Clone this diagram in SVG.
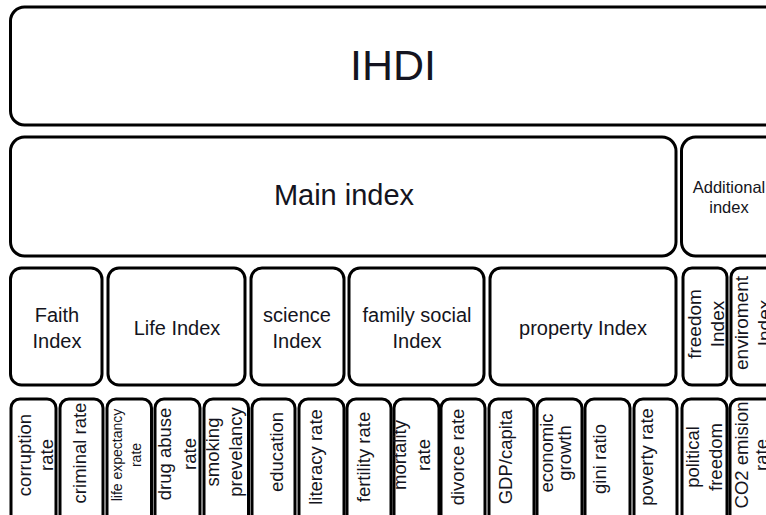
<svg xmlns="http://www.w3.org/2000/svg" width="766" height="515" viewBox="0 0 766 515">
<style>
.box{fill:#fff;stroke:#000;stroke-width:3}
.t{font-family:"Liberation Sans",Arial,sans-serif;fill:#141420;text-anchor:middle}
.b{font-size:18.5px}
.m{font-size:20px}
</style>
<rect width="766" height="515" fill="#fff"/>
<g id="connectors"/>
<g id="ihdi"><rect class="box" x="10.5" y="7" width="770" height="118" rx="14"/><text class="t" x="393" y="80" font-size="43">IHDI</text></g>
<g id="main-index"><rect class="box" x="10.5" y="137" width="665.5" height="119" rx="14"/><text class="t" x="344" y="205" font-size="29">Main index</text></g>
<g id="additional-index"><rect class="box" x="681.5" y="137" width="120" height="119" rx="14"/><text class="t" x="729" y="193" font-size="16.5">Additional</text><text class="t" x="729" y="213" font-size="16.5">index</text></g>

<g id="faith-index"><rect class="box" x="10.5" y="268" width="91.5" height="117" rx="11"/><text class="t m" x="57" y="322">Faith</text><text class="t m" x="57" y="348">Index</text></g>
<g id="life-index"><rect class="box" x="108" y="268" width="137" height="117" rx="11"/><text class="t m" x="177" y="335">Life Index</text></g>
<g id="science-index"><rect class="box" x="251" y="268" width="93" height="117" rx="11"/><text class="t m" x="297" y="322">science</text><text class="t m" x="297" y="348">Index</text></g>
<g id="family-social-index"><rect class="box" x="349" y="268" width="135" height="117" rx="11"/><text class="t m" x="417" y="322">family social</text><text class="t m" x="417" y="348">Index</text></g>
<g id="property-index"><rect class="box" x="490" y="268" width="186" height="117" rx="11"/><text class="t m" x="583" y="335">property Index</text></g>
<g id="freedom-index"><rect class="box" x="683" y="268" width="44" height="117" rx="9"/><text class="t" font-size="19" transform="translate(701,324) rotate(-90)"><tspan x="0">freedom</tspan><tspan x="0" dy="23">Index</tspan></text></g>
<g id="enviroment-index"><rect class="box" x="731" y="268" width="60" height="117" rx="9"/><text class="t" font-size="19" transform="translate(748,323) rotate(-90)"><tspan x="0">enviroment</tspan><tspan x="0" dy="23">Index</tspan></text></g>

<g id="corruption-rate"><rect class="box" x="11" y="399" width="45" height="140" rx="9"/><text class="t b" transform="translate(31,455) rotate(-90)"><tspan x="0">corruption</tspan><tspan x="0" dy="22">rate</tspan></text></g>
<g id="criminal-rate"><rect class="box" x="60" y="399" width="43" height="140" rx="9"/><text class="t b" transform="translate(86,453) rotate(-90)">criminal rate</text></g>
<g id="life-expectancy-rate"><rect class="box" x="107" y="399" width="44.5" height="140" rx="9"/><text class="t" font-size="14" transform="translate(122,455) rotate(-90)"><tspan x="0">life expectancy</tspan><tspan x="0" dy="19">rate</tspan></text></g>
<g id="drug-abuse-rate"><rect class="box" x="155" y="399" width="45" height="140" rx="9"/><text class="t b" transform="translate(171,454) rotate(-90)"><tspan x="0">drug abuse</tspan><tspan x="0" dy="25">rate</tspan></text></g>
<g id="smoking-prevelancy"><rect class="box" x="204" y="399" width="44.5" height="140" rx="9"/><text class="t b" transform="translate(219,452) rotate(-90)"><tspan x="0">smoking</tspan><tspan x="0" dy="23">prevelancy</tspan></text></g>
<g id="education"><rect class="box" x="252" y="399" width="43" height="140" rx="9"/><text class="t b" transform="translate(283,452) rotate(-90)">education</text></g>
<g id="literacy-rate"><rect class="box" x="299" y="399" width="45" height="140" rx="9"/><text class="t b" transform="translate(322,457) rotate(-90)">literacy rate</text></g>
<g id="fertility-rate"><rect class="box" x="347" y="399" width="44" height="140" rx="9"/><text class="t b" transform="translate(370,457) rotate(-90)">fertility rate</text></g>
<g id="mortality-rate"><rect class="box" x="394" y="399" width="45" height="140" rx="9"/><text class="t b" transform="translate(406,455) rotate(-90)"><tspan x="0">mortality</tspan><tspan x="0" dy="24">rate</tspan></text></g>
<g id="divorce-rate"><rect class="box" x="441" y="399" width="44" height="140" rx="9"/><text class="t b" transform="translate(464,457) rotate(-90)">divorce rate</text></g>
<g id="gdp-capita"><rect class="box" x="489" y="399" width="45" height="140" rx="9"/><text class="t b" transform="translate(512,457) rotate(-90)">GDP/capita</text></g>
<g id="economic-growth"><rect class="box" x="537" y="399" width="45" height="140" rx="9"/><text class="t b" transform="translate(553,453) rotate(-90)"><tspan x="0">economic</tspan><tspan x="0" dy="18">growth</tspan></text></g>
<g id="gini-ratio"><rect class="box" x="585" y="399" width="45" height="140" rx="9"/><text class="t b" transform="translate(606,459) rotate(-90)">gini ratio</text></g>
<g id="poverty-rate"><rect class="box" x="634" y="399" width="43" height="140" rx="9"/><text class="t b" transform="translate(653,457) rotate(-90)">poverty rate</text></g>
<g id="political-freedom"><rect class="box" x="682" y="399" width="45" height="140" rx="9"/><text class="t b" transform="translate(699,457) rotate(-90)"><tspan x="0">political</tspan><tspan x="0" dy="23">freedom</tspan></text></g>
<g id="co2-emision-rate"><rect class="box" x="730" y="399" width="60" height="140" rx="9"/><text class="t b" transform="translate(748,455) rotate(-90)"><tspan x="0">CO2 emision</tspan><tspan x="0" dy="20">rate</tspan></text></g>
</svg>
